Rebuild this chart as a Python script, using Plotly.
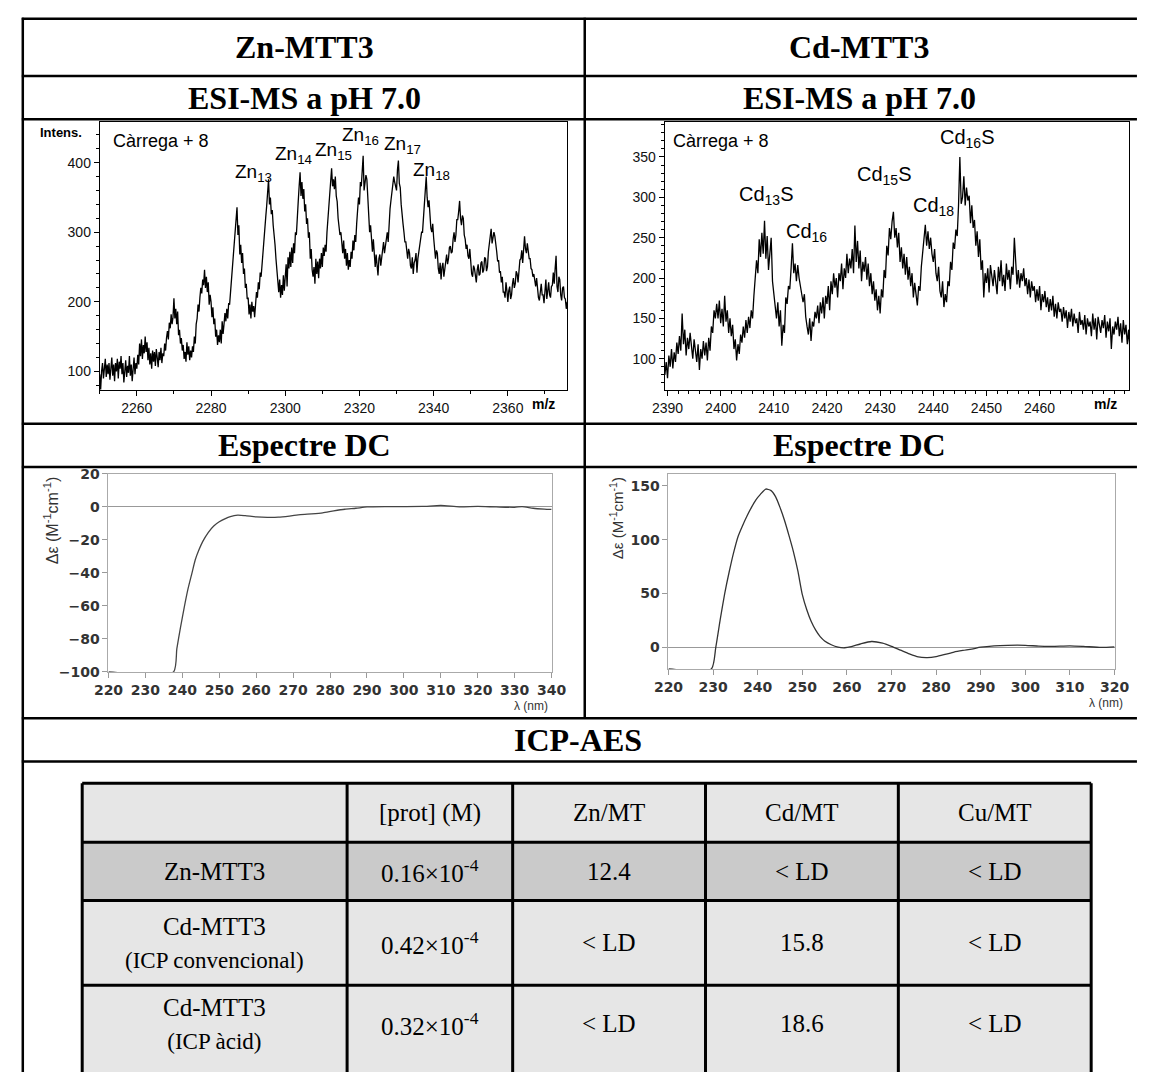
import numpy as np
import plotly.graph_objects as go

W, H = 1150, 1073


def px(x):
    return x / W


def py(y):
    return 1 - y / H


# ---------------- ESI-MS, Zn-MTT3 (charge +8), 0.25 m/z sampling ----------------
zn_mz_start, zn_mz_step = 2250.0, 0.25
zn_intensity = [
    96, 74, 100, 112, 90, 104, 118, 92, 110, 96,
    112, 88, 106, 120, 94, 110, 86, 112, 100, 118,
    90, 114, 104, 122, 96, 112, 84, 104, 116, 92,
    108, 98, 122, 94, 110, 86, 102, 120, 96, 112,
    104, 124, 110, 140, 122, 146, 118, 138, 126, 150,
    128, 142, 116, 134, 110, 126, 104, 130, 114, 128,
    108, 132, 120, 106, 128, 116, 134, 112, 126, 122,
    140, 130, 148, 158, 146, 170, 162, 182, 168, 178,
    205, 176, 190, 168, 186, 152, 160, 140, 148, 130,
    138, 118, 128, 114, 142, 124, 136, 116, 130, 120,
    136, 128, 150, 140, 168, 176, 196, 186, 206, 220,
    212, 232, 224, 246, 220, 236, 214, 228, 196, 210,
    200, 178, 192, 168, 176, 150, 160, 138, 152, 142,
    160, 140, 172, 154, 168, 184, 172, 190, 176, 198,
    196, 214, 226, 248, 264, 290, 304, 318, 336, 296,
    310, 268, 282, 256, 270, 240, 248, 220, 226, 204,
    206, 182, 196, 176, 200, 186, 194, 178, 202, 214,
    206, 228, 218, 242, 236, 256, 262, 280, 300, 322,
    338, 356, 376, 340, 350, 326, 332, 310, 300, 282,
    262, 240, 226, 214, 232, 206, 224, 210, 238, 216,
    236, 254, 222, 264, 248, 272, 250, 278, 256, 284,
    270, 300, 296, 330, 344, 366, 386, 352, 372, 348,
    362, 330, 340, 312, 320, 292, 300, 262, 276, 246,
    236, 250, 226, 262, 240, 258, 234, 262, 248, 270,
    250, 278, 266, 282, 272, 300, 318, 340, 362, 372,
    392, 366, 376, 362, 380, 352, 344, 320, 310, 296,
    300, 276, 270, 288, 262, 276, 252, 270, 246, 260,
    250, 272, 262, 288, 274, 296, 286, 312, 330, 350,
    340, 372, 366, 392, 410, 360, 368, 382, 376, 344,
    320, 300, 310, 284, 272, 290, 262, 250, 268, 246,
    238, 262, 268, 252, 264, 282, 286, 270, 278, 292,
    300, 286, 320, 334, 346, 358, 362, 380, 372, 366,
    360, 390, 403, 370, 364, 340, 330, 312, 300, 286,
    286, 270, 262, 276, 270, 252, 248, 264, 240, 256,
    260, 270, 242, 262, 270, 284, 286, 300, 300, 322,
    340, 352, 380, 350, 336, 346, 318, 306, 300, 312,
    292, 280, 262, 274, 270, 248, 240, 256, 232, 250,
    256, 236, 246, 262, 268, 254, 262, 278, 280, 270,
    272, 290, 300, 286, 296, 318, 318, 330, 345, 320,
    310, 324, 320, 296, 290, 276, 282, 266, 262, 276,
    250, 240, 236, 252, 248, 232, 228, 246, 254, 238,
    240, 256, 258, 242, 246, 264, 262, 244, 250, 272,
    286, 298, 305, 284, 290, 300, 294, 276, 272, 258,
    260, 242, 244, 228, 236, 214, 214, 206, 228, 216,
    200, 216, 222, 204, 210, 226, 234, 220, 226, 244,
    240, 228, 248, 260, 262, 274, 256, 270, 294, 276,
    270, 284, 276, 262, 262, 248, 246, 236, 240, 226,
    222, 234, 214, 206, 202, 218, 226, 210, 210, 198,
    218, 232, 204, 216, 228, 210, 206, 222, 224, 242,
    226, 248, 266, 222, 214, 236, 232, 210, 202, 220,
    222, 206, 204, 190, 200,
]
zn_mz = zn_mz_start + zn_mz_step * np.arange(len(zn_intensity))

zn_peak_labels = ["Zn<sub>13</sub>", "Zn<sub>14</sub>", "Zn<sub>15</sub>",
                  "Zn<sub>16</sub>", "Zn<sub>17</sub>", "Zn<sub>18</sub>"]

# ---------------- ESI-MS, Cd-MTT3 (charge +8), 0.25 m/z sampling ----------------
cd_mz_start, cd_mz_step = 2389.5, 0.25
cd_intensity = [
    80, 96, 76, 104, 90, 112, 88, 108, 96, 120,
    106, 128, 110, 156, 118, 136, 104, 126, 112, 132,
    116, 100, 124, 110, 96, 118, 86, 112, 100, 122,
    104, 120, 98, 126, 110, 140, 132, 160, 150, 168,
    150, 172, 144, 162, 140, 178, 146, 160, 132, 150,
    128, 142, 112, 124, 98, 118, 106, 130, 120, 140,
    126, 148, 132, 152, 138, 160, 150, 178, 196, 222,
    206, 248, 226, 256, 230, 271, 224, 252, 210, 236,
    250, 196, 180, 160, 150, 170, 140, 160, 116, 142,
    132, 176, 168, 190, 186, 212, 243, 206, 218, 196,
    216, 200, 190, 176, 170, 180, 152, 140, 130, 150,
    122, 146, 140, 158, 150, 166, 144, 170, 156, 176,
    150, 178, 168, 190, 160, 196, 180, 206, 188, 200,
    176, 206, 196, 218, 186, 212, 200, 230, 206, 224,
    212, 236, 206, 265, 220, 246, 212, 234, 196, 220,
    208, 226, 198, 218, 190, 206, 180, 196, 172, 186,
    160, 178, 156, 186, 176, 210, 200, 240, 228, 262,
    248, 270, 282, 250, 262, 238, 256, 220, 238, 212,
    230, 204, 226, 198, 214, 190, 206, 176, 194, 180,
    166, 190, 184, 214, 230, 246, 266, 240, 258, 236,
    250, 230, 220, 236, 206, 196, 214, 184, 176, 196,
    164, 180, 170, 196, 190, 220, 210, 244, 236, 260,
    252, 290, 350, 292, 300, 326, 290, 312, 296, 302,
    268, 290, 262, 272, 240, 258, 226, 248, 210, 222,
    176, 206, 194, 212, 182, 216, 200, 190, 210, 194,
    180, 214, 196, 222, 190, 204, 184, 218, 198, 210,
    186, 214, 204, 250, 216, 192, 210, 188, 206, 196,
    212, 190, 200, 180, 198, 176, 196, 184, 190, 170,
    186, 172, 190, 160, 180, 170, 184, 164, 176, 158,
    174, 160, 178, 152, 168, 150, 170, 158, 162, 146,
    164, 150, 160, 138, 158, 146, 162, 140, 156, 144,
    150, 132, 158, 142, 148, 136, 154, 130, 150, 140,
    146, 128, 156, 136, 150, 124, 152, 140, 132, 148,
    138, 154, 126, 146, 134, 150, 112, 140, 130, 146,
    136, 152, 128, 144, 120, 148, 130, 142, 118, 136,
    110,
]
cd_mz = cd_mz_start + cd_mz_step * np.arange(len(cd_intensity))

cd_peak_labels = ["Cd<sub>13</sub>S", "Cd<sub>16</sub>", "Cd<sub>15</sub>S",
                  "Cd<sub>18</sub>", "Cd<sub>16</sub>S"]

# ---------------- CD spectra ----------------
zn_cd_wl = [220, 237.6, 238.5, 239.5, 240.5, 241.5, 242.5, 243.5, 244.5, 245.5,
            247, 248.5, 250, 251.5, 253, 255, 257, 260, 263, 266,
            269, 272, 275, 278, 281, 284, 287, 290, 295, 300,
            305, 310, 315, 320, 325, 330, 332, 335, 338, 340]
zn_cd_de = [-100, -100, -86, -73, -61, -50, -41, -32, -26, -21,
            -15.5, -11.5, -9, -7.2, -5.8, -5, -5.3, -6, -6.3, -6.2,
            -5.5, -4.6, -4.2, -3.6, -2.4, -1.4, -0.8, 0, 0.2, 0.2,
            0.3, 0.9, 0.1, 0.3, 0, -0.2, 0.2, -0.8, -1.3, -1.5]

cd_cd_wl = [220, 229.6, 230.6, 231.6, 232.6, 233.6, 234.6, 235.6, 236.6, 237.6,
            238.6, 239.6, 240.6, 241.8, 243, 244, 245, 246, 247, 248,
            249, 250, 251, 252, 253, 254, 255, 256.5, 258, 259.5,
            261, 263, 265.5, 268, 270, 272, 274, 276, 278, 280,
            282, 284, 286, 288, 290, 293, 296, 300, 303, 306,
            310, 313, 317, 320]
cd_cd_de = [-20, -20, 0, 26, 50, 70, 88, 103, 113, 122,
            130, 137, 142, 147, 145.5, 140, 130, 118, 104, 89,
            71, 49, 35, 24, 16, 10, 6, 2.5, 0.3, -0.3,
            0.8, 3.2, 5.5, 4, 1, -2.5, -6, -8.8, -9.4, -8.5,
            -6.5, -4.3, -2.8, -1.5, 0.2, 1.5, 2, 2, 1.2, 1,
            1.5, 1, 0, 0.5]

# ---------------- ICP-AES table ----------------
icp_header = ["", "[prot] (M)", "Zn/MT", "Cd/MT", "Cu/MT"]
icp_samples = ["Zn-MTT3",
               "Cd-MTT3<br><span style='font-size:23px'>(ICP convencional)</span>",
               "Cd-MTT3<br><span style='font-size:23px'>(ICP àcid)</span>"]
icp_prot = ["0.16×10<sup>-4</sup>", "0.42×10<sup>-4</sup>", "0.32×10<sup>-4</sup>"]
icp_zn = ["12.4", "< LD", "< LD"]
icp_cd = ["< LD", "15.8", "18.6"]
icp_cu = ["< LD", "< LD", "< LD"]

SANS = "Liberation Sans, Arial, sans-serif"
SERIF = "Liberation Serif, Times New Roman, serif"

fig = go.Figure()

fig.add_trace(go.Scatter(x=zn_mz, y=zn_intensity, mode="lines",
                         line=dict(color="black", width=1.3),
                         xaxis="x", yaxis="y", showlegend=False, hoverinfo="skip"))
fig.add_trace(go.Scatter(x=cd_mz, y=cd_intensity, mode="lines",
                         line=dict(color="black", width=1.3),
                         xaxis="x2", yaxis="y2", showlegend=False, hoverinfo="skip"))
fig.add_trace(go.Scatter(x=zn_cd_wl, y=zn_cd_de, mode="lines",
                         line=dict(color="#444", width=1.3, shape="spline", smoothing=0.6),
                         xaxis="x3", yaxis="y3", showlegend=False, hoverinfo="skip"))
fig.add_trace(go.Scatter(x=cd_cd_wl, y=cd_cd_de, mode="lines",
                         line=dict(color="#333", width=1.3, shape="spline", smoothing=0.6),
                         xaxis="x4", yaxis="y4", showlegend=False, hoverinfo="skip"))

esi_common = dict(showline=True, mirror=True, linecolor="black", linewidth=1,
                  ticks="outside", ticklen=5, tickcolor="black", showgrid=False,
                  zeroline=False, tickfont=dict(family=SANS, size=14, color="#111"))
cd_common = dict(showline=True, mirror=True, linecolor="#aaa", linewidth=1,
                 ticks="outside", ticklen=5, tickcolor="#999", showgrid=False,
                 tickfont=dict(family="DejaVu Sans", size=14, color="#333", weight="bold"))

fig.update_layout(
    width=W, height=H, autosize=False,
    margin=dict(l=0, r=0, t=0, b=0),
    paper_bgcolor="white", plot_bgcolor="white",
    xaxis=dict(domain=[px(87), px(567)], range=[2250.0, 2376.0], anchor="y",
               tickvals=list(range(2260, 2361, 20)),
               minor=dict(dtick=10, ticklen=3, ticks="outside", tickcolor="black"),
               **esi_common),
    yaxis=dict(domain=[py(388), py(116)], range=[73, 458], anchor="x",
               tickvals=[100, 200, 300, 400],
               minor=dict(dtick=20, ticklen=3, ticks="outside", tickcolor="black"),
               **esi_common),
    xaxis2=dict(domain=[px(667), px(1144)], range=[2389.45, 2476.85], anchor="y2",
                tickvals=list(range(2390, 2461, 10)),
                minor=dict(dtick=2, ticklen=3, ticks="outside", tickcolor="black"),
                **esi_common),
    yaxis2=dict(domain=[py(388), py(116)], range=[61, 393], anchor="x2",
                tickvals=[100, 150, 200, 250, 300, 350],
                minor=dict(dtick=10, ticklen=3, ticks="outside", tickcolor="black"),
                **esi_common),
    xaxis3=dict(domain=[px(96), px(551)], range=[220, 340], anchor="y3",
                dtick=10, zeroline=False, **cd_common),
    yaxis3=dict(domain=[py(674), py(473)], range=[-100, 20], anchor="x3",
                dtick=20, zeroline=True, zerolinecolor="#999", zerolinewidth=1,
                **cd_common),
    xaxis4=dict(domain=[px(671), px(1129)], range=[220, 320], anchor="y4",
                dtick=10, zeroline=False, **cd_common),
    yaxis4=dict(domain=[py(671), py(473)], range=[-20, 161], anchor="x4",
                tickvals=[0, 50, 100, 150], zeroline=True, zerolinecolor="#999",
                zerolinewidth=1, **cd_common),
)

shapes = []


def hline(y, x0, x1, w=2.5, c="black"):
    shapes.append(dict(type="line", xref="paper", yref="paper",
                       x0=px(x0), x1=px(x1), y0=py(y), y1=py(y),
                       line=dict(color=c, width=w)))


def vline(x, y0, y1, w=2.5, c="black"):
    shapes.append(dict(type="line", xref="paper", yref="paper",
                       x0=px(x), x1=px(x), y0=py(y0), y1=py(y1),
                       line=dict(color=c, width=w)))


def rect(x0, y0, x1, y1, fill):
    shapes.append(dict(type="rect", xref="paper", yref="paper",
                       x0=px(x0), x1=px(x1), y0=py(y1), y1=py(y0),
                       line=dict(width=0), fillcolor=fill, layer="below"))


# ICP table backgrounds
col_edges = [69, 341, 511, 709, 907, 1105]
row_edges = [787, 847, 906, 992, 1080]
row_fills = ["#e6e6e6", "#cacaca", "#e6e6e6", "#e6e6e6"]
for i, f in enumerate(row_fills):
    rect(col_edges[0], row_edges[i], col_edges[-1], row_edges[i + 1], f)

# outer frame
for y in [11, 69, 113, 422, 466, 721, 765]:
    hline(y, 7, 1152)
vline(8, 10, 1080)
vline(585, 10, 721)

# ICP table grid
for y in row_edges[:-1]:
    hline(y, col_edges[0], col_edges[-1], w=3)
for x in col_edges:
    vline(x, row_edges[0], row_edges[-1], w=3)

fig.update_layout(shapes=shapes)

ann = []


def text(x, y, s, size, family=SANS, bold=False, color="black",
         xanchor="center", yanchor="middle", angle=0):
    if bold:
        s = "<b>" + s + "</b>"
    ann.append(dict(xref="paper", yref="paper", x=px(x), y=py(y), text=s,
                    showarrow=False, xanchor=xanchor, yanchor=yanchor,
                    textangle=angle,
                    font=dict(family=family, size=size, color=color)))


# section headings
text(297, 40, "Zn-MTT3", 32, SERIF, True)
text(867, 40, "Cd-MTT3", 32, SERIF, True)
text(297, 91, "ESI-MS a pH 7.0", 32, SERIF, True)
text(867, 91, "ESI-MS a pH 7.0", 32, SERIF, True)
text(297, 444, "Espectre DC", 32, SERIF, True)
text(867, 444, "Espectre DC", 32, SERIF, True)
text(578, 743, "ICP-AES", 32, SERIF, True)

# ESI-MS labels
text(47, 126, "Intens.", 13, SANS, True)
text(543, 402, "m/z", 14, SANS, True)
text(1120, 402, "m/z", 14, SANS, True)
text(99, 135, "Càrrega + 8", 18, SANS, xanchor="left")
text(674, 135, "Càrrega + 8", 18, SANS, xanchor="left")

zn_label_pos = [(245, 167), (286, 149), (327, 145), (355, 130), (398, 139), (428, 165)]
for lab, (x, y) in zip(zn_peak_labels, zn_label_pos):
    text(x, y, lab, 19, SANS)
cd_label_pos = [(772, 190), (813, 228), (893, 170), (943, 202), (978, 132)]
for lab, (x, y) in zip(cd_peak_labels, cd_label_pos):
    text(x, y, lab, 20, SANS)

# CD axis titles
cd_ytitle = "Δε (M<sup>-1</sup>cm<sup>-1</sup>)"
text(37, 521, cd_ytitle, 16, SANS, color="#333", angle=-90)
text(617, 518, cd_ytitle, 15, SANS, color="#333", angle=-90)
text(530, 709, "λ (nm)", 12, SANS, color="#333")
text(1120, 706, "λ (nm)", 12, SANS, color="#333")

# ICP table content
col_centres = [(a + b) / 2 for a, b in zip(col_edges[:-1], col_edges[1:])]
row_centres = [(a + b) / 2 for a, b in zip(row_edges[:-1], [847, 906, 992, 1070])]
for c, h in zip(col_centres, icp_header):
    if h:
        text(c, row_centres[0], h, 25, SERIF)
columns = [icp_samples, icp_prot, icp_zn, icp_cd, icp_cu]
for r in range(3):
    for c, col in enumerate(columns):
        text(col_centres[c], row_centres[r + 1], col[r], 25, SERIF)

fig.update_layout(annotations=ann)

fig.write_html("out.html", config={"displayModeBar": False})
